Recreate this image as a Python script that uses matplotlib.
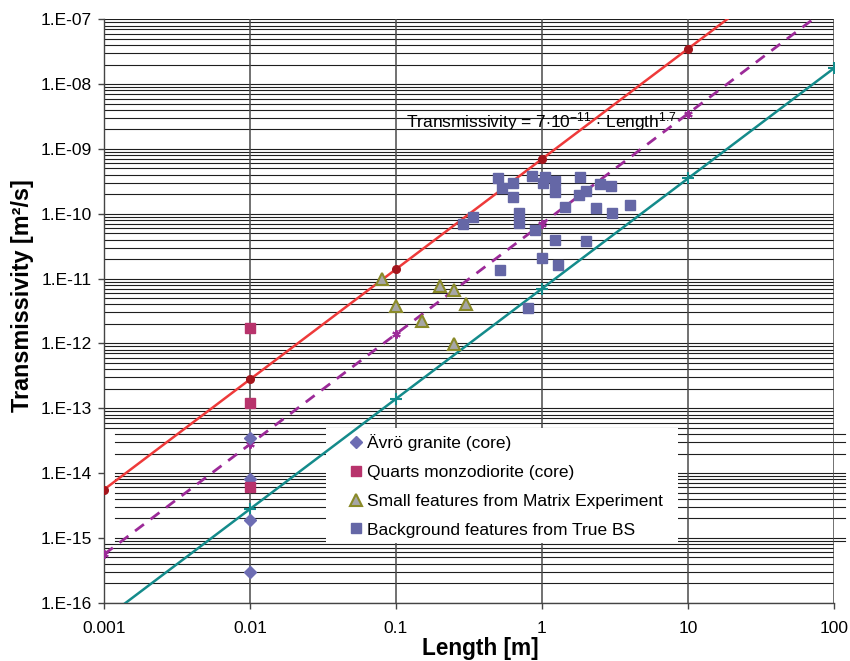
#!/usr/bin/env python3
"""
Transmissivity vs. feature length, log-log, with the power-law scaling lines
"""

import numpy as np
import matplotlib
matplotlib.use('Agg')
import matplotlib.pyplot as plt
from matplotlib.patches import Rectangle
from matplotlib.ticker import NullLocator

plt.rcParams['font.family'] = ['Liberation Sans', 'DejaVu Sans']
plt.rcParams['mathtext.fontset'] = 'custom'
plt.rcParams['mathtext.rm'] = 'Liberation Sans'
plt.rcParams['mathtext.it'] = 'Liberation Sans:italic'
plt.rcParams['mathtext.bf'] = 'Liberation Sans:bold'

# --- data -------------------------------------------------------------
avro_L = [0.01, 0.01, 0.01, 0.01]
avro_T = [3.5e-14, 8.0e-15, 1.9e-15, 3.0e-16]

quarts_L = [0.01, 0.01, 0.01]
quarts_T = [1.7e-12, 1.2e-13, 6.1e-15]

small_L = [0.08, 0.1, 0.2, 0.25, 0.3, 0.15, 0.25]
small_T = [9.7e-12, 3.8e-12, 7.7e-12, 6.6e-12, 4.0e-12, 2.2e-12, 9.8e-13]

bg_L = [0.50, 0.63, 0.53, 0.63, 0.86, 1.05, 1.02, 1.22, 1.22, 1.82,
        1.80, 2.0, 2.49, 2.99, 4.0, 3.0, 2.34, 1.44, 0.70, 0.70,
        0.90, 0.286, 0.335, 1.22, 2.0, 1.0, 1.29, 0.515, 0.805]
bg_T = [3.5e-10, 3.0e-10, 2.47e-10, 1.83e-10, 3.82e-10, 3.65e-10, 2.94e-10, 3.2e-10, 2.19e-10, 3.65e-10,
        1.95e-10, 2.24e-10, 2.87e-10, 2.67e-10, 1.36e-10, 1.01e-10, 1.21e-10, 1.26e-10, 1.01e-10, 7.1e-11,
        5.6e-11, 6.9e-11, 8.8e-11, 3.9e-11, 3.8e-11, 2.05e-11, 1.6e-11, 1.35e-11, 3.5e-12]

# T = a * L^b  (upper bound, fitted relation, lower bound)
line_coef = [7e-10, 7e-11, 7e-12]
line_exp = 1.7
line_L = [0.001, 0.01, 0.1, 1, 10, 100]

x_ticks = [0.001, 0.01, 0.1, 1, 10, 100]
x_ticklabels = ['0.001', '0.01', '0.1', '1', '10', '100']
y_ticks = [10.0 ** e for e in range(-16, -6)]
y_ticklabels = ['1.E-%02d' % -e for e in range(-16, -6)]

# --- figure -----------------------------------------------------------
W, H = 850, 661
fig = plt.figure(figsize=(W / 100, H / 100), dpi=100)
ax_l, ax_r, ax_t, ax_b = 104, 834, 19.3, 602.7
ax = fig.add_axes([ax_l / W, 1 - ax_b / H, (ax_r - ax_l) / W, (ax_b - ax_t) / H])
ax.set_xscale('log')
ax.set_yscale('log')
ax.set_xlim(0.001, 100)
ax.set_ylim(1e-16, 1e-7)

# horizontal grid at every 1..9 step; a band of them is shifted right
grid_col = '#1e1e1e'
band_lo, band_hi = 9e-16, 4e-14
px = lambda p: (p - ax_l) / (ax_r - ax_l)
gap_lo, gap_hi = px(326), px(678)
for n in range(-16, -7):
    for k in range(1, 10):
        yv = k * 10.0 ** n
        if band_lo * 0.99 <= yv <= band_hi * 1.01:
            ax.axhline(yv, px(115), gap_lo, color=grid_col, lw=0.8, zorder=0.6, clip_on=False)
            ax.axhline(yv, gap_hi, px(845), color=grid_col, lw=0.8, zorder=0.6, clip_on=False)
        else:
            ax.axhline(yv, 0, 1, color=grid_col, lw=0.8, zorder=0.6)
ax.axhline(1e-7, 0, 1, color=grid_col, lw=0.8, zorder=0.6)

# vertical grid at decades
for xv in x_ticks:
    ax.axvline(xv, color='#4a4a4a', lw=1.1, zorder=0.7)

# blank area behind the legend
y_frac = lambda p: (ax_b - p) / (ax_b - ax_t)
ax.add_patch(Rectangle((gap_lo, y_frac(543)), gap_hi - gap_lo, y_frac(428) - y_frac(543),
                       transform=ax.transAxes, facecolor='white', edgecolor='none', zorder=1))

# scaling lines
Ls = np.array(line_L)
ax.plot(Ls, line_coef[0] * Ls ** line_exp, '-', color='#ee3a3a', lw=1.8,
        marker='o', ms=5.5, mfc='#a3151c', mec='#a3151c', zorder=3)
ax.plot(Ls, line_coef[1] * Ls ** line_exp, '--', color='#9c2a98', lw=2.0, dashes=(4, 3),
        marker=(6, 2, 0), ms=6, mec='#9c2a98', mew=1.5, zorder=3)
ax.plot(Ls, line_coef[2] * Ls ** line_exp, '-', color='#148b8b', lw=1.8,
        marker='+', ms=8, mec='#148b8b', mew=1.5, zorder=3)

# measured data
ax.plot(avro_L, avro_T, 'D', ms=6.5, color='#6d6db3', mec='#6d6db3', lw=0,
        label='Ävrö granite (core)', zorder=4)
ax.plot(quarts_L, quarts_T, 's', ms=7.2, color='#b8336c', mec='#b8336c', lw=0,
        label='Quarts monzodiorite (core)', zorder=5)
ax.plot(small_L, small_T, '^', ms=8, mfc='#a6a6a6', mec='#8a8a28', mew=1.5, lw=0,
        label='Small features from Matrix Experiment', zorder=4)
ax.plot(bg_L, bg_T, 's', ms=7.2, color='#6567a6', mec='#6567a6', lw=0,
        label='Background features from True BS', zorder=4)

ax.text(0.117, 2.15e-9,
        r'Transmissivity = 7$\cdot$10$^{-11}$ $\cdot$ Length$^{1.7}$',
        fontsize=12.5, va='baseline', ha='left', zorder=6)

# axes, ticks
ax.set_xticks(x_ticks)
ax.set_xticklabels(x_ticklabels)
ax.set_yticks(y_ticks)
ax.set_yticklabels(y_ticklabels)
ax.xaxis.set_minor_locator(NullLocator())
ax.yaxis.set_minor_locator(NullLocator())
ax.tick_params(axis='both', which='major', labelsize=12.5, color='#444444',
               length=4.5, width=1.0, direction='out')
ax.tick_params(axis='x', pad=9)
ax.tick_params(axis='y', pad=4.5)
for side in ['top', 'right']:
    ax.spines[side].set_visible(False)
for side in ['left', 'bottom']:
    ax.spines[side].set_color('#444444')
    ax.spines[side].set_linewidth(1.0)

fig.text(480 / W, 1 - 648 / H, 'Length [m]', fontsize=16.3, fontweight='bold',
         ha='center', va='center')
fig.text(22.7 / W, 1 - 296 / H, 'Transmissivity [m²/s]', fontsize=16.8, fontweight='bold',
         ha='center', va='center', rotation=90)

leg = ax.legend(loc='upper left', bbox_to_anchor=(351 / W, 1 - 434 / H),
                bbox_transform=fig.transFigure, frameon=False, fontsize=12.5,
                borderpad=0, borderaxespad=0, handlelength=0.6, handletextpad=0.3,
                labelspacing=0.79, numpoints=1)
leg.set_zorder(7)

fig.savefig('out.png', dpi=100)
